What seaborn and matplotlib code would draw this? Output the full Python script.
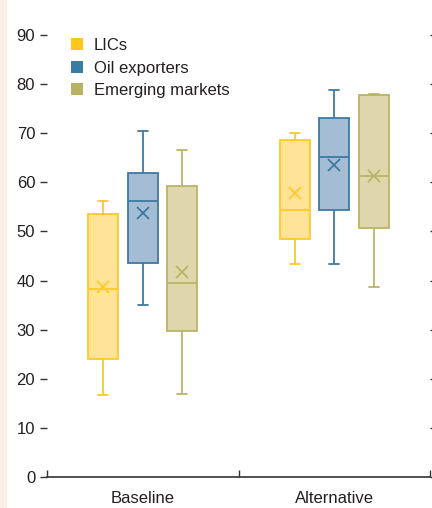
import numpy as np
import pandas as pd
import seaborn as sns
import matplotlib.pyplot as plt
from matplotlib.patches import Patch, Rectangle

# ---- data ----
scenarios = ["Baseline", "Alternative"]
groups = ["LICs", "Oil exporters", "Emerging markets"]
# each list: [Baseline, Alternative]
lows    = {"LICs": [16.6, 43.3], "Oil exporters": [35.1, 43.3], "Emerging markets": [16.8, 38.7]}
q1s     = {"LICs": [24.1, 48.5], "Oil exporters": [43.5, 54.3], "Emerging markets": [29.8, 50.6]}
medians = {"LICs": [38.2, 54.3], "Oil exporters": [56.3, 65.2], "Emerging markets": [39.6, 61.3]}
q3s     = {"LICs": [53.6, 68.7], "Oil exporters": [62.0, 73.2], "Emerging markets": [59.3, 77.8]}
highs   = {"LICs": [56.1, 70.1], "Oil exporters": [70.5, 78.7], "Emerging markets": [66.6, 78.0]}
means   = {"LICs": [38.7, 57.8], "Oil exporters": [53.8, 63.5], "Emerging markets": [41.7, 61.3]}
yticks = [0, 10, 20, 30, 40, 50, 60, 70, 80, 90]

legend_colors = ["#FDC71C", "#3A7BA4", "#B8B262"]
fill_colors   = ["#FFE497", "#A5BDD4", "#DDD7AB"]
edge_colors   = ["#FFC928", "#3D7AA2", "#BAB467"]

rows = []
for g in groups:
    for i, s in enumerate(scenarios):
        for v in (lows[g][i], q1s[g][i], medians[g][i], q3s[g][i], highs[g][i]):
            rows.append({"scenario": s, "group": g, "value": v})
df = pd.DataFrame(rows)
mean_df = pd.DataFrame([{"scenario": s, "group": g, "mean": means[g][i]}
                        for g in groups for i, s in enumerate(scenarios)])

sns.set_style("ticks")
plt.rcParams["font.family"] = ["Liberation Sans", "DejaVu Sans"]
plt.rcParams["font.size"] = 11.5
text_color = "#231F20"

fig = plt.figure(figsize=(4.32, 5.08), dpi=100)
fig.add_artist(Rectangle((0, 0), 7 / 432, 1, transform=fig.transFigure,
                         facecolor="#FBF0E6", edgecolor="none", zorder=-5))
ax = fig.add_axes([47 / 432, 31 / 508, 383 / 432, 442 / 508])

box_width = 0.62
gap = 0.24
for g, fc, ec in zip(groups, fill_colors, edge_colors):
    sub = df[df["group"] == g]
    sns.boxplot(data=sub, x="scenario", y="value", hue="group",
                order=scenarios, hue_order=groups,
                palette={h: fc for h in groups}, saturation=1,
                linecolor=ec, linewidth=1.3, width=box_width, gap=gap,
                dodge=True, whis=(0, 100), legend=False, ax=ax)

# narrow the whisker caps to about a third of the box width
single_box = box_width / 3 * (1 - gap)
for ln in ax.lines:
    xd = np.asarray(ln.get_xdata(), dtype=float)
    yd = np.asarray(ln.get_ydata(), dtype=float)
    if len(xd) == 2 and yd[0] == yd[1]:
        w = abs(xd[1] - xd[0])
        if 0 < w < 0.8 * single_box:
            c = xd.mean()
            half = single_box / 3 / 2
            ln.set_xdata([c - half, c + half])

sns.pointplot(data=mean_df, x="scenario", y="mean", hue="group",
              order=scenarios, hue_order=groups,
              palette=dict(zip(groups, edge_colors)),
              markers="x", linestyles="none", dodge=box_width * 2 / 3,
              errorbar=None, markersize=9, markeredgewidth=1.3,
              legend=False, ax=ax)

ax.set_xlim(-0.5, 1.5)
ax.set_ylim(0, 90)
ax.set_yticks(yticks)
ax.set_xlabel("")
ax.set_ylabel("")
for side in ("left", "top", "right"):
    ax.spines[side].set_visible(False)
ax.spines["bottom"].set_color("#333333")
ax.spines["bottom"].set_linewidth(1.2)
ax.spines["bottom"].set_zorder(5)

ax.tick_params(axis="y", which="both", left=True, right=True, labelright=False,
               direction="out", length=5, width=1.0, color="#333333",
               labelcolor=text_color, pad=3.5, labelsize=12)
ax.tick_params(axis="x", which="major", length=0, pad=10, labelcolor=text_color,
               labelsize=12)
ax.set_xticks([-0.5, 0.5, 1.5], minor=True)
ax.tick_params(axis="x", which="minor", direction="in", length=5, width=1.0,
               color="#333333")

handles = [Patch(facecolor=c, edgecolor="none") for c in legend_colors]
ax.legend(handles, groups, loc="upper left", bbox_to_anchor=(0.062, 0.993),
          frameon=False, handlelength=0.75, handleheight=0.75, handletextpad=0.65,
          labelspacing=0.45, borderaxespad=0, borderpad=0, fontsize=12,
          labelcolor=text_color)

fig.savefig("out.png", dpi=100)
